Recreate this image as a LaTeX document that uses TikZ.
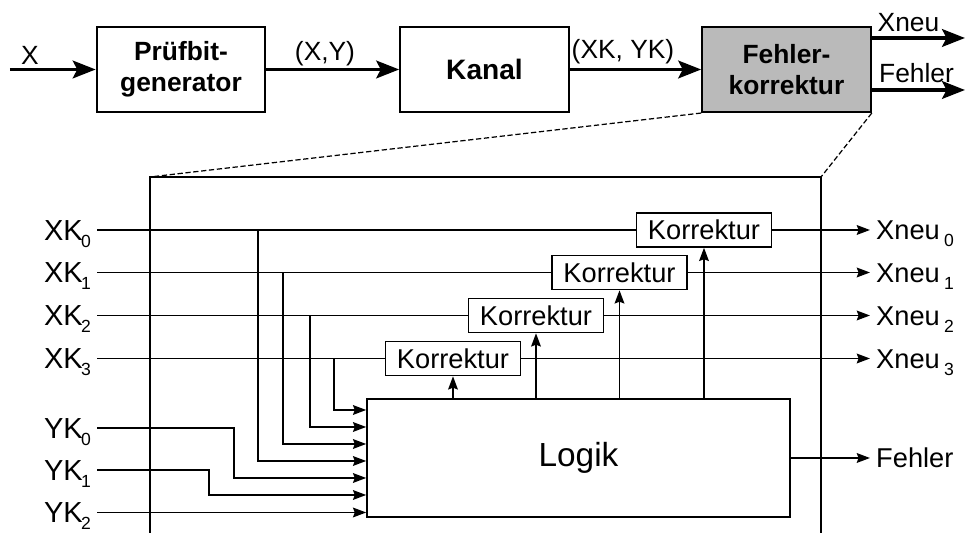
\documentclass[tikz,border=0pt]{standalone}
\usepackage{fontspec}
\setmainfont{Liberation Sans}
\usetikzlibrary{arrows.meta}

\newcommand{\lowsub}[2]{\kern#1\raisebox{-4pt}{\fontsize{10}{10}\selectfont #2}}

\begin{document}
\begin{tikzpicture}[
    topbox/.style={draw, line width=1.2pt, minimum width=3.37cm, minimum height=1.70cm,
      align=center, font=\fontsize{15}{17.5}\selectfont\bfseries},
    korr/.style={draw, line width=0.9pt, minimum width=2.70cm, minimum height=0.68cm,
      inner sep=1pt, font=\fontsize{15.5}{18}\selectfont},
    sig/.style={font=\fontsize{16.5}{19}\selectfont, text height=11.8pt, text depth=0pt},
    outsig/.style={font=\fontsize{15.5}{18}\selectfont, text height=11.1pt, text depth=0pt},
    toplbl/.style={font=\fontsize{15}{17}\selectfont},
    wire/.style={line width=1.1pt},
    arr/.style={wire, -{Stealth[length=7.5pt,width=5.5pt,inset=1pt]}},
    bigarr/.style={line width=2.2pt, -{Stealth[length=13pt,width=10pt,inset=2.5pt]}}
  ]
  \useasboundingbox (0,0) rectangle (19.3,10.66);

  % Top row: coding chain
  \node[topbox] (pruef) at (3.62,9.27) {Prüfbit-\\generator};
  \node[topbox] (kanal) at (9.69,9.27) {\fontsize{16}{18}\selectfont Kanal};
  \node[topbox, fill=black!27] (fk) at (15.73,9.27) {Fehler-\\korrektur};
  \coordinate (xin) at (0.2,9.27);
  \coordinate (xneuout) at (19.3,9.90);
  \coordinate (fehlerout) at (19.3,8.86);
  \draw[bigarr] (xin) -- (pruef);
  \draw[bigarr] (pruef) -- (kanal);
  \draw[bigarr] (kanal) -- (fk);
  \draw[bigarr] (fk.east |- xneuout) -- (xneuout);
  \draw[bigarr] (fk.east |- fehlerout) -- (fehlerout);
  \node[toplbl] (lx) at (0.6,9.56) {X};
  \node[toplbl] (lxy) at (6.5,9.58) {(X,Y)};
  \node[toplbl] (lxkyk) at (12.46,9.62) {(XK, YK)};
  \node[toplbl] (lxneu) at (18.17,10.20) {Xneu};
  \node[toplbl] (lfehler) at (18.33,9.19) {Fehler};

  % Zoom frame
  \coordinate (zl) at (3.0,7.12);
  \coordinate (zr) at (16.42,7.12);
  \draw[dash pattern=on 3pt off 1.5pt, line width=0.7pt] (fk.south west) -- (zl);
  \draw[dash pattern=on 3pt off 1.5pt, line width=0.7pt] (fk.south east) -- (zr);
  \draw[line width=0.9pt] (3.0,0) -- (zl) -- (zr) -- (16.42,0);

  % Inner logic
  \node[draw, line width=0.9pt, minimum width=8.46cm, minimum height=2.36cm,
    font=\fontsize{19}{22}\selectfont] (logik) at (11.57,1.50) {Logik};
  \node[outsig, anchor=west] (fehler) at (17.40,1.50) {Fehler};
  \draw[arr] (logik.east) -- (fehler.west);

  \foreach \i/\y/\kx/\tx/\ay in {0/6.06/14.08/5.16/1.44, 1/5.21/12.39/5.66/1.78,
                                  2/4.35/10.72/6.20/2.12, 3/3.49/9.06/6.68/2.46} {
    \node[sig, anchor=east] (xk\i) at (1.94,\y) {XK\lowsub{-1pt}{\i}};
    \node[korr] (korr\i) at (\kx,\y) {Korrektur};
    \node[outsig, anchor=west] (xneu\i) at (17.40,\y) {Xneu\lowsub{2.5pt}{\i}};
    \coordinate (tap\i) at (\tx,\y);
    \coordinate (rx\i) at (0,\ay);
    \draw[wire] (xk\i.east) -- (korr\i.west);
    \draw[arr] (korr\i.east) -- (xneu\i.west);
    \draw[arr] (tap\i) |- (logik.west |- rx\i);
    \draw[arr] (korr\i.south |- logik.north) -- (korr\i.south);
  }

  \foreach \i/\y/\jx/\ay in {0/2.10/4.68/1.10, 1/1.26/4.18/0.76, 2/0.41/4.00/0.41} {
    \node[sig, anchor=east] (yk\i) at (1.94,\y) {YK\lowsub{-1pt}{\i}};
    \coordinate (ry\i) at (0,\ay);
    \draw[arr] (yk\i.east) -| (\jx,\ay) -- (logik.west |- ry\i);
  }
\end{tikzpicture}
\end{document}
